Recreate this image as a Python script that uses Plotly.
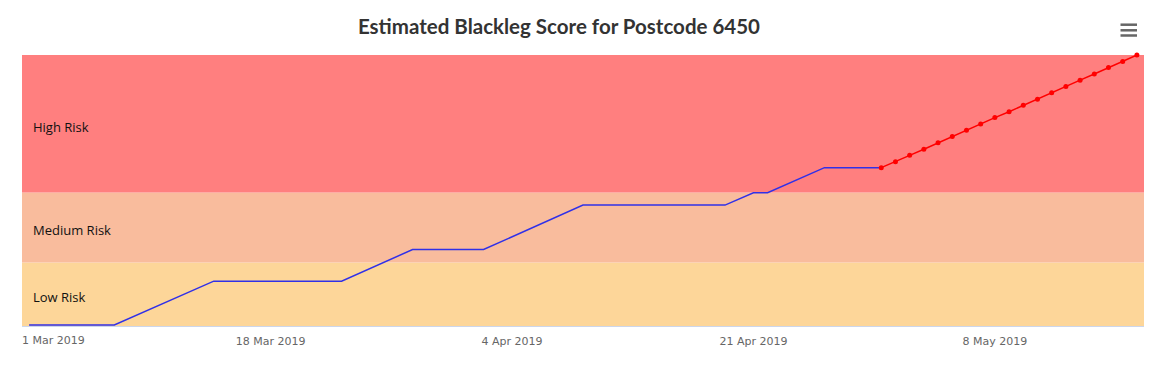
import plotly.graph_objects as go
from datetime import datetime, timedelta

# ---- data ----
observed_dates = ["2019-03-01", "2019-03-07", "2019-03-14", "2019-03-23", "2019-03-28",
                  "2019-04-02", "2019-04-09", "2019-04-19", "2019-04-21", "2019-04-22",
                  "2019-04-26", "2019-04-30"]
observed_scores = [2.6, 2.6, 18.3, 18.3, 29.6, 29.6, 45.5, 45.5, 49.9, 49.9, 58.9, 58.9]

forecast_dates = ["2019-04-30", "2019-05-01", "2019-05-02", "2019-05-03", "2019-05-04",
                  "2019-05-05", "2019-05-06", "2019-05-07", "2019-05-08", "2019-05-09",
                  "2019-05-10", "2019-05-11", "2019-05-12", "2019-05-13", "2019-05-14",
                  "2019-05-15", "2019-05-16", "2019-05-17", "2019-05-18"]
forecast_scores = [58.9, 61.0, 63.3, 65.5, 67.8, 70.0, 72.3, 74.5, 76.8, 78.9,
                   81.2, 83.4, 85.7, 87.9, 90.2, 92.4, 94.7, 96.9, 99.2]

band_names = ["Low Risk", "Medium Risk", "High Risk"]
band_from = [2.25, 25, 50]
band_to = [25, 50, 99.2]
band_colors = ["#FDD699", "#F9BC9D", "#FF7F7F"]

tick_dates = ["2019-03-01", "2019-03-18", "2019-04-04", "2019-04-21", "2019-05-08"]
tick_labels = ["1 Mar 2019", "18 Mar 2019", "4 Apr 2019", "21 Apr 2019", "8 May 2019"]

title_text = "Estimated Blackleg Score for Postcode 6450"

# page body has an 8px margin; figure is sized to fit the window
W, H = 1156, 353
ML, MR, MT, MB = 14, 20, 47, 35
PW = W - ML - MR
PH = H - MT - MB

fig = go.Figure()

fig.add_trace(go.Scatter(
    x=observed_dates, y=observed_scores, mode="lines",
    line=dict(color="#3030E8", width=1.5), showlegend=False, hoverinfo="x+y"))

fig.add_trace(go.Scatter(
    x=forecast_dates, y=forecast_scores, mode="lines+markers",
    line=dict(color="#FF0000", width=1.5), cliponaxis=False,
    marker=dict(color="#FF0000", size=5), showlegend=False, hoverinfo="x+y"))

shapes = []
annotations = []
for name, y0, y1, col in zip(band_names, band_from, band_to, band_colors):
    shapes.append(dict(type="rect", xref="paper", yref="y", x0=0, x1=1, y0=y0, y1=y1,
                       fillcolor=col, line=dict(width=0), layer="below"))
    annotations.append(dict(text=name, xref="paper", yref="y", x=0.0, y=(y0 + y1) / 2,
                            xanchor="left", yanchor="middle", xshift=9, yshift=-3,
                            showarrow=False,
                            font=dict(family="Open Sans", size=13, color="#111111")))

# first tick label is shifted inside the chart like the original
annotations.append(dict(text=tick_labels[0], xref="paper", yref="paper", x=0, y=0,
                        xanchor="left", yanchor="top", yshift=-6, xshift=-2,
                        showarrow=False,
                        font=dict(family="DejaVu Sans", size=11, color="#666666")))

# hamburger menu icon (positions in page pixels, converted to paper)
for py in [24.7, 30.3, 35.5]:
    yp = (H - MB + 8 - py) / PH
    shapes.append(dict(type="line", xref="paper", yref="paper",
                       x0=(1120.5 - 8 - ML) / PW, x1=(1137 - 8 - ML) / PW, y0=yp, y1=yp,
                       line=dict(color="#666666", width=2.5)))

start = datetime(2019, 3, 1) - timedelta(hours=12)
end = datetime(2019, 5, 18) + timedelta(hours=12)

fig.update_layout(
    width=W, height=H,
    margin=dict(l=ML, r=MR, t=MT, b=MB),
    paper_bgcolor="white", plot_bgcolor="white",
    title=dict(text="<b>" + title_text + "</b>", x=(559 - 8) / W, xanchor="center",
               y=1 - (27 - 8) / H, yanchor="middle",
               font=dict(family="Lato", size=20.5, color="#333333")),
    xaxis=dict(type="date", range=[start, end], tickvals=tick_dates,
               ticktext=[""] + tick_labels[1:], showgrid=False, zeroline=False,
               showline=True, linecolor="#ccd6eb", linewidth=1, ticks="",
               ticklabelstandoff=5,
               tickfont=dict(family="DejaVu Sans", size=11, color="#666666")),
    yaxis=dict(range=[2.25, 99.2], showticklabels=False, showgrid=False,
               zeroline=False, showline=False, ticks=""),
    shapes=shapes, annotations=annotations,
)

fig.write_html("out.html")
